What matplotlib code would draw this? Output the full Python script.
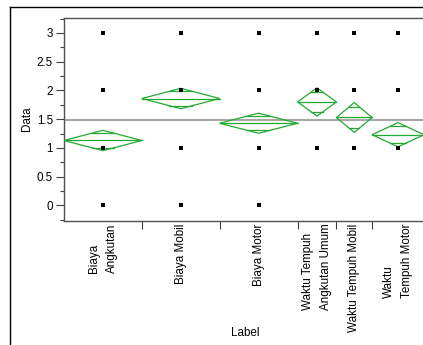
import numpy as np
import matplotlib
matplotlib.use("Agg")
import matplotlib.pyplot as plt
from matplotlib.patches import Polygon
from matplotlib.lines import Line2D

plt.rcParams['font.family'] = ['Liberation Sans', 'DejaVu Sans']
plt.rcParams['font.size'] = 8.4

# groups (JMP means diamonds, width proportional to group size)
labels = ["Biaya\nAngkutan", "Biaya Mobil", "Biaya Motor",
          "Waktu Tempuh\nAngkutan Umum", "Waktu Tempuh Mobil", "Waktu\nTempuh Motor"]
group_n = [24, 24, 24, 12, 11, 16]
means = [1.13, 1.86, 1.43, 1.80, 1.53, 1.23]
ci_half = [0.177, 0.177, 0.175, 0.245, 0.26, 0.21]
levels = [[0, 1, 2, 3], [0, 1, 2, 3], [0, 1, 2, 3], [1, 2, 3], [1, 2, 3], [1, 2, 3]]
grand_mean = 1.48

green = '#22aa33'

fig = plt.figure(figsize=(4.23, 3.45), dpi=100)
ax = fig.add_axes([64 / 423, (345 - 221) / 345, 360 / 423, (221 - 18) / 345])

edges = np.concatenate([[0], np.cumsum(group_n)])
centers = (edges[:-1] + edges[1:]) / 2

ax.axhline(grand_mean, color='#a8a8a8', lw=1.5, zorder=1)

for i in range(len(labels)):
    L, R, c = edges[i], edges[i + 1], centers[i]
    m, h = means[i], ci_half[i]
    ax.add_patch(Polygon([(L, m), (c, m + h), (R, m), (c, m - h)], closed=True,
                         fill=False, edgecolor=green, lw=0.9, zorder=3))
    ax.plot([L, R], [m, m], color=green, lw=0.9, zorder=3)
    hw = (R - L) / 2 * (1 - 1 / np.sqrt(2))
    for s in (1, -1):
        ax.plot([c - hw, c + hw], [m + s * h / np.sqrt(2)] * 2, color=green, lw=0.9, zorder=3)
    ax.scatter([c] * len(levels[i]), levels[i], marker='s', s=6, color='black',
               linewidths=0, zorder=4)

ax.set_xlim(0, edges[-1])
ax.set_ylim(-0.27, 3.26)
ax.set_yticks([0, 0.5, 1, 1.5, 2, 2.5, 3])
ax.set_yticklabels(['0', '0.5', '1', '1.5', '2', '2.5', '3'])
ax.set_yticks(np.arange(-0.25, 3.3, 0.25), minor=True)
ax.tick_params(axis='y', which='major', length=6, width=0.8, pad=2, colors='#404040', labelcolor='black')
ax.tick_params(axis='y', which='minor', length=3, width=0.8, colors='#404040')
ax.set_xticks(edges[1:-1])
ax.set_xticklabels([])
ax.tick_params(axis='x', which='major', length=6, width=0.8, colors='#404040')

for i, lab in enumerate(labels):
    ax.text(centers[i], -0.31, lab, rotation=90, ha='center', va='top',
            multialignment='left', linespacing=1.6)

ax.spines['right'].set_visible(False)
for sp in ('left', 'bottom', 'top'):
    ax.spines[sp].set_color('#505050')
    ax.spines[sp].set_linewidth(1.0)

fig.text(27 / 423, 1 - 119 / 345, 'Data', rotation=90, ha='center', va='center')
fig.text(245 / 423, 1 - 333 / 345, 'Label', ha='center', va='center')

# outer frame
fig.add_artist(Line2D([10 / 423, 10 / 423], [0, 1 - 7 / 345], color='black', lw=1.0))
fig.add_artist(Line2D([10 / 423, 1], [1 - 7 / 345, 1 - 7 / 345], color='black', lw=1.0))

fig.savefig('out.png', dpi=100)
